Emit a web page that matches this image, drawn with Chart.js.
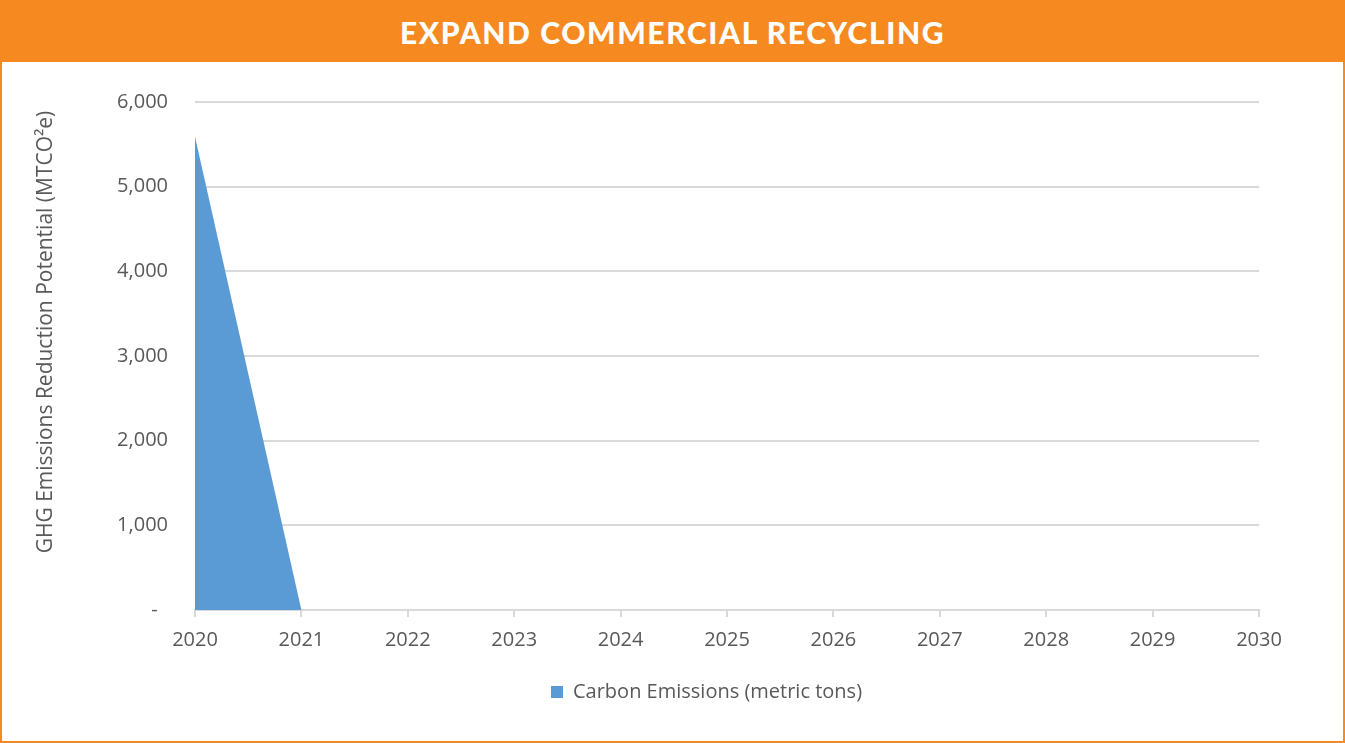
<!DOCTYPE html>
<html>
<head>
<meta charset="utf-8">
<script src="https://cdn.jsdelivr.net/npm/chart.js@4.4.1/dist/chart.umd.min.js"></script>
<style>
  html, body { margin: 0; padding: 0; background: #fff; }
  #frame { position: absolute; left: 0; top: 0; width: 1345px; height: 743px; box-sizing: border-box;
           border: 2px solid #F68A21; border-top: 0; background: #fff; }
  #header { position: absolute; left: 0; top: 0; width: 1345px; height: 62px; background: #F68A21;
            color: #fff; font-family: Lato, "Open Sans", sans-serif; font-weight: 900; font-size: 30px;
            text-align: center; line-height: 64px; letter-spacing: 1.6px; }
  #wrap { position: absolute; left: 0; top: 0; width: 1345px; height: 743px; }
</style>
</head>
<body>
<div id="frame"></div>
<div id="header">EXPAND COMMERCIAL RECYCLING</div>
<div id="wrap"><canvas id="c" width="1345" height="743"></canvas></div>
<script>
const years = ['2020','2021','2022','2023','2024','2025','2026','2027','2028','2029','2030'];
const carbonEmissions = [5590, 0, 0, 0, 0, 0, 0, 0, 0, 0, 0];
const seriesName = 'Carbon Emissions (metric tons)';
const yTitle = 'GHG Emissions Reduction Potential (MTCO\u00B2e)';

const FONT = "'Open Sans', sans-serif";
const TXT = '#595959';
const GRID = '#d9d9d9';

// Shift legend to the right and draw the y-axis title centred on the whole plot block
const customPlugin = {
  id: 'custom',
  afterLayout(chart) {
    const lg = chart.legend;
    if (lg) { lg.left += 62; lg.right += 62; }
  },
  afterDraw(chart) {
    const ctx = chart.ctx;
    ctx.save();
    ctx.translate(46, 332);
    ctx.rotate(-Math.PI / 2);
    ctx.fillStyle = TXT;
    ctx.font = "21px 'Open Sans', sans-serif";
    ctx.textAlign = 'center';
    ctx.textBaseline = 'middle';
    ctx.fillText(yTitle, 0, 0);
    ctx.restore();
  }
};

new Chart(document.getElementById('c'), {
  type: 'line',
  data: {
    labels: years,
    datasets: [{
      label: seriesName,
      data: carbonEmissions,
      fill: 'origin',
      backgroundColor: '#5B9BD5',
      borderColor: '#5B9BD5',
      borderWidth: 0,
      pointRadius: 0,
      tension: 0
    }]
  },
  plugins: [customPlugin],
  options: {
    responsive: false,
    animation: false,
    devicePixelRatio: 1,
    layout: { padding: { top: 102, left: 30, right: 86, bottom: 31 } },
    plugins: {
      tooltip: { enabled: false },
      legend: {
        position: 'bottom',
        labels: { boxWidth: 12, boxHeight: 12, padding: 22, color: TXT, font: { family: FONT, size: 20 } }
      }
    },
    scales: {
      x: {
        offset: false,
        afterFit: (a) => { a.height -= 3; },
        grid: { display: true, drawOnChartArea: false, drawTicks: true, tickLength: 7, color: GRID, lineWidth: 2 },
        border: { display: true, color: GRID, width: 2 },
        ticks: { color: TXT, font: { family: FONT, size: 20 }, padding: 11, maxRotation: 0 }
      },
      y: {
        min: 0, max: 6000,
        afterFit: (a) => { a.width = 165; },
        grid: { color: GRID, lineWidth: 2, drawTicks: false },
        border: { display: false },
        ticks: {
          stepSize: 1000, padding: 27, color: TXT, font: { family: FONT, size: 20 },
          callback: (v) => v === 0 ? '-  ' : v.toLocaleString('en-US')
        },
        title: { display: false, text: yTitle }
      }
    }
  }
});
</script>
</body>
</html>
